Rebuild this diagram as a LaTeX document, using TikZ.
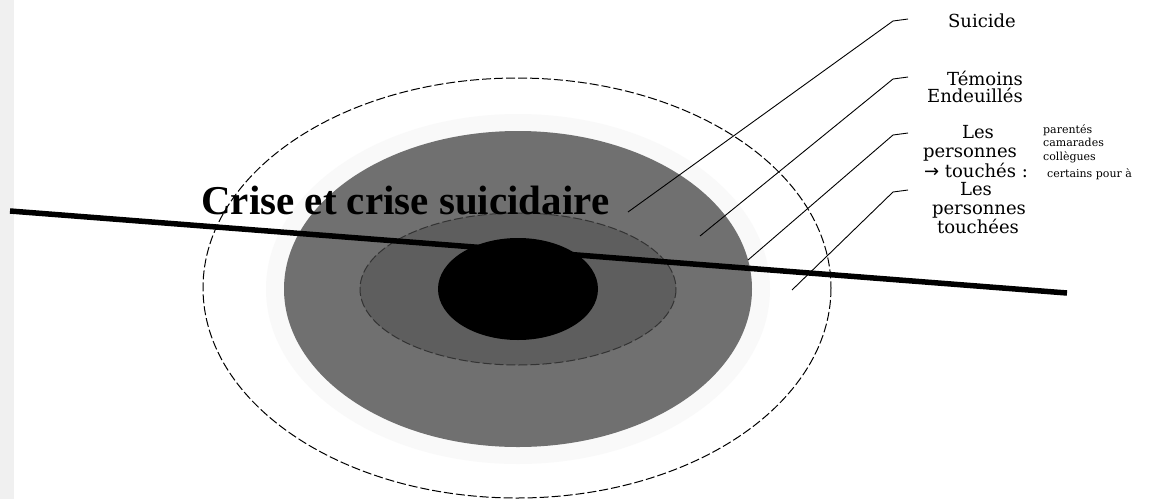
\documentclass[tikz,border=0pt]{standalone}
\usepackage{fontspec}
\setmainfont{DejaVu Serif}
\newfontfamily\titlefont{Liberation Serif}
\newfontfamily\arrowfont{DejaVu Sans}
\begin{document}
\begin{tikzpicture}[x=1pt,y=-1pt,
  lead/.style={line width=0.9pt,black},
  lbl/.style={font=\fontsize{18}{19}\selectfont,anchor=base,inner sep=0pt},
  small/.style={font=\fontsize{11}{14}\selectfont,anchor=base west,inner sep=0pt},
  ringline/.style={dash pattern=on 9pt off 3pt,line width=1pt}]
\useasboundingbox (0,0) rectangle (1163,499);
\fill[white] (0,0) rectangle (1163,499);
\fill[gray!12] (0,0) rectangle (14,499);
% rings
\fill[gray!5] (518,289) ellipse [x radius=252,y radius=175];
\draw[ringline] (517,288) ellipse [x radius=314,y radius=210];
\fill[black!56] (518,289) ellipse [x radius=234,y radius=158];
\filldraw[fill=black!63,draw=black!80,ringline] (518,289) ellipse [x radius=158,y radius=76];
\fill[black] (518,289) ellipse [x radius=80,y radius=51];
% leader lines
\coordinate (t1) at (908,19);  \coordinate (b1) at (893,21);  \coordinate (e1) at (628,212);
\coordinate (t2) at (908,77);  \coordinate (b2) at (893,79);  \coordinate (e2) at (700,236);
\coordinate (t3) at (908,133); \coordinate (b3) at (893,135); \coordinate (e3) at (748,260);
\coordinate (t4) at (908,190); \coordinate (b4) at (893,192); \coordinate (e4) at (792,290);
\draw[lead] (e1) -- (b1) -- (t1);
\draw[lead] (e2) -- (b2) -- (t2);
\draw[lead] (e3) -- (b3) -- (t3);
\draw[lead] (e4) -- (b4) -- (t4);
% labels
\node[lbl] (suicide) at (982,27) {Suicide};
\node[lbl] (tem1) at (985,85) {Témoins};
\node[lbl] (tem2) at (975,102) {Endeuillés};
\node[lbl] (les1) at (978,138) {Les};
\node[lbl] (pers1) at (970,157) {personnes};
\node[lbl] (touch1) at (976,177) {{\arrowfont→} touchés :};
\node[lbl] (les2) at (976,195) {Les};
\node[lbl] (pers2) at (979,214) {personnes};
\node[lbl] (touch2) at (978,233) {touchées};
\node[small] (par) at (1043,133) {parentés};
\node[small] (cam) at (1043,146) {camarades};
\node[small] (col) at (1043,160) {collègues};
\node[small] (cert) at (1047,177) {certains pour à};
% title
\node[anchor=base west,inner sep=0pt,font=\titlefont\bfseries\fontsize{41}{41}\selectfont] (title) at (201,214) {Crise et crise suicidaire};
% thick line
\coordinate (L0) at (10,211);
\coordinate (L1) at (1067,293);
\draw[line width=5.5pt] (L0) -- (L1);
\end{tikzpicture}
\end{document}
